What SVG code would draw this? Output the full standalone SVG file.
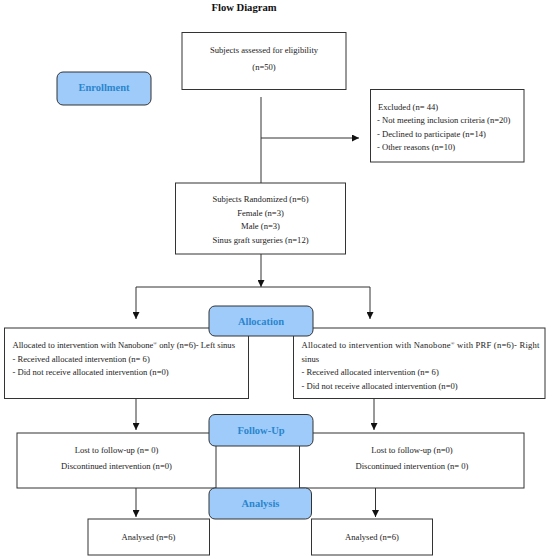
<svg xmlns="http://www.w3.org/2000/svg" width="550" height="559" viewBox="0 0 550 559">
<style>
.box{fill:#fff;stroke:#333;stroke-width:1}
.stage{fill:#9fcbfb;stroke:#333;stroke-width:1}
.t{font-family:"Liberation Serif","DejaVu Serif",serif;font-size:8.6px;fill:#222}
.c{text-anchor:middle}
.st{font-family:"Liberation Serif","DejaVu Serif",serif;font-size:10.5px;font-weight:bold;fill:#2a86cc;text-anchor:middle}
.title{font-family:"Liberation Serif","DejaVu Serif",serif;font-size:10.6px;font-weight:bold;fill:#111;text-anchor:middle}
.ln{fill:none;stroke:#333;stroke-width:1}
</style>
<defs>
<marker id="ah" viewBox="0 0 10 10" refX="10" refY="5" markerWidth="7" markerHeight="7" orient="auto" markerUnits="userSpaceOnUse">
<path d="M0,0 L10,5 L0,10 z" fill="#111"/>
</marker>
</defs>
<rect width="550" height="559" fill="#fff"/>
<text class="title" x="244" y="11">Flow Diagram</text>

<g id="connectors">
<path class="ln" d="M261,97 V183"/>
<path class="ln" d="M261,138 H359" marker-end="url(#ah)"/>
<path class="ln" d="M261,254 V287" marker-end="url(#ah)"/>
<path class="ln" d="M136,287 H370"/>
<path class="ln" d="M136,287 V319" marker-end="url(#ah)"/>
<path class="ln" d="M370,287 V319" marker-end="url(#ah)"/>
<path class="ln" d="M136,398.5 V430" marker-end="url(#ah)"/>
<path class="ln" d="M374,398.5 V430" marker-end="url(#ah)"/>
<path class="ln" d="M136,488 V517" marker-end="url(#ah)"/>
<path class="ln" d="M375.5,488 V517" marker-end="url(#ah)"/>
</g>

<g id="assessed">
<rect class="box" x="182" y="32.5" width="164" height="57"/>
<text class="t c" x="264" y="53">Subjects assessed for eligibility</text>
<text class="t c" x="264" y="69.5">(n=50)</text>
</g>

<g id="enrollment">
<rect class="stage" x="57" y="72" width="94" height="33" rx="6"/>
<text class="st" x="104" y="90.5">Enrollment</text>
</g>

<g id="excluded">
<rect class="box" x="370.5" y="89.5" width="153.5" height="72.5"/>
<text class="t" x="378" y="109.5">Excluded (n= 44)</text>
<text class="t" x="377" y="123">- Not meeting inclusion criteria (n=20)</text>
<text class="t" x="377" y="136.5">- Declined to participate (n=14)</text>
<text class="t" x="377" y="150">- Other reasons (n=10)</text>
</g>

<g id="randomized">
<rect class="box" x="175.5" y="183" width="170" height="71"/>
<text class="t c" x="260.5" y="202">Subjects Randomized (n=6)</text>
<text class="t c" x="260.5" y="215.5">Female (n=3)</text>
<text class="t c" x="260.5" y="229">Male (n=3)</text>
<text class="t c" x="260.5" y="243">Sinus graft surgeries (n=12)</text>
</g>

<g id="alloc-left">
<rect class="box" x="4.5" y="328" width="244" height="70.5"/>
<text class="t" x="12.5" y="348">Allocated to intervention with Nanobone<tspan font-size="5" dy="-3">®</tspan><tspan dy="3"> only (n=6)- Left sinus</tspan></text>
<text class="t" x="12.5" y="361.5">- Received allocated intervention (n= 6)</text>
<text class="t" x="12.5" y="375">- Did not receive allocated intervention (n=0)</text>
</g>

<g id="alloc-right">
<rect class="box" x="293.5" y="328" width="251.5" height="70.5"/>
<text class="t" x="301.5" y="348" textLength="238" lengthAdjust="spacing">Allocated to intervention with Nanobone<tspan font-size="5" dy="-3">®</tspan><tspan dy="3"> with PRF (n=6)- Right</tspan></text>
<text class="t" x="301.5" y="361.5">sinus</text>
<text class="t" x="301.5" y="375">- Received allocated intervention (n= 6)</text>
<text class="t" x="301.5" y="388.5">- Did not receive allocated intervention (n=0)</text>
</g>

<g id="allocation">
<rect class="stage" x="209" y="306" width="104" height="30" rx="6"/>
<text class="st" x="261" y="325">Allocation</text>
</g>

<g id="followup-left">
<rect class="box" x="17" y="433" width="199" height="55"/>
<text class="t c" x="116.5" y="452.5">Lost to follow-up (n= 0)</text>
<text class="t c" x="116.5" y="469">Discontinued intervention (n=0)</text>
</g>

<g id="followup-right">
<rect class="box" x="299.5" y="433" width="224.5" height="55"/>
<text class="t c" x="412" y="452.5">Lost to follow-up (n=0)</text>
<text class="t c" x="412" y="469">Discontinued intervention (n= 0)</text>
</g>

<g id="followup">
<rect class="stage" x="209" y="414.5" width="104" height="31.5" rx="6"/>
<text class="st" x="261" y="433.5">Follow-Up</text>
</g>

<g id="analysis">
<rect class="stage" x="209" y="488" width="102.5" height="31" rx="6"/>
<text class="st" x="260.5" y="507">Analysis</text>
</g>

<g id="analysed-left">
<rect class="box" x="88" y="519" width="121.5" height="36"/>
<text class="t c" x="148.5" y="539.5">Analysed (n=6)</text>
</g>

<g id="analysed-right">
<rect class="box" x="311.5" y="519" width="121" height="36"/>
<text class="t c" x="372" y="539.5">Analysed (n=6)</text>
</g>
</svg>
